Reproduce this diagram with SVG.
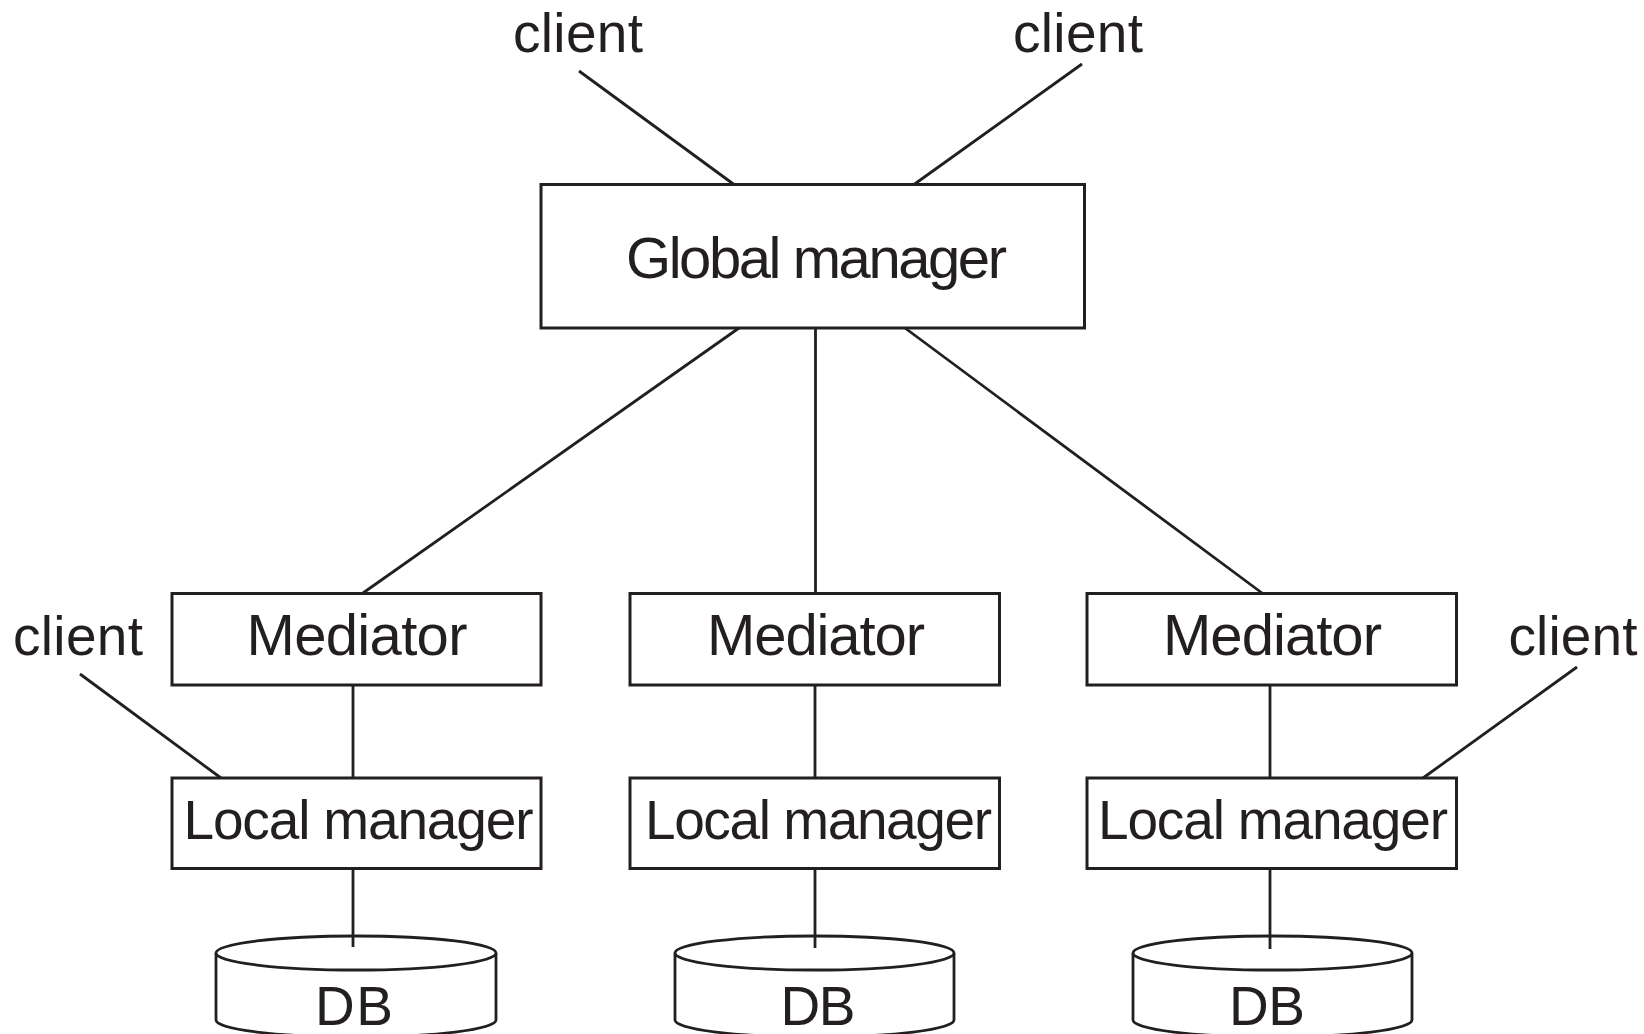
<svg xmlns="http://www.w3.org/2000/svg" width="1644" height="1034" viewBox="0 0 1644 1034">
<style>
.box{fill:#fff;stroke:#231f20;stroke-width:3}
.ln{stroke:#231f20;stroke-width:2.8;fill:none}
.db{fill:#fff;stroke:#231f20;stroke-width:2.8}
text{font-family:"Liberation Sans",Arial,sans-serif;fill:#231f20;text-anchor:middle}
.lbl{font-size:58px}
.lm{font-size:55px}
.dbt{font-size:55px}
.cl{font-size:55px}
</style>
<rect width="1644" height="1034" fill="#fff"/>
<g id="connectors">
<line class="ln" x1="579" y1="71" x2="734" y2="184.5"/>
<line class="ln" x1="1082" y1="64" x2="914" y2="184.5"/>
<line class="ln" x1="739" y1="328" x2="363" y2="593"/>
<line class="ln" x1="815.5" y1="328" x2="815.5" y2="593"/>
<line class="ln" x1="905" y1="328" x2="1262" y2="593"/>
<line class="ln" x1="353" y1="685" x2="353" y2="778"/>
<line class="ln" x1="815" y1="685" x2="815" y2="778"/>
<line class="ln" x1="1270" y1="685" x2="1270" y2="778"/>
<line class="ln" x1="80" y1="674" x2="221" y2="778"/>
<line class="ln" x1="1577" y1="667" x2="1423" y2="778"/>
</g>
<g id="client-top-left"><text class="cl" x="578" y="52" textLength="130">client</text></g>
<g id="client-top-right"><text class="cl" x="1078" y="52" textLength="130">client</text></g>
<g id="client-left"><text class="cl" x="78" y="655" textLength="130">client</text></g>
<g id="client-right"><text class="cl" x="1573" y="655" textLength="129">client</text></g>
<g id="global-manager">
<rect class="box" x="541" y="184.5" width="543.5" height="143.5"/>
<text class="lbl" x="816.5" y="278" textLength="381">Global manager</text>
</g>
<g id="mediator-left">
<rect class="box" x="172" y="593.5" width="369" height="91.5"/>
<text class="lbl" x="357" y="655" textLength="221">Mediator</text>
</g>
<g id="mediator-center">
<rect class="box" x="630" y="593.5" width="369.5" height="91.5"/>
<text class="lbl" x="816" y="655" textLength="218">Mediator</text>
</g>
<g id="mediator-right">
<rect class="box" x="1087" y="593.5" width="369.5" height="91.5"/>
<text class="lbl" x="1272.5" y="655" textLength="219">Mediator</text>
</g>
<g id="local-manager-left">
<rect class="box" x="172" y="778" width="369" height="90.5"/>
<text class="lm" x="358.5" y="839" textLength="350">Local manager</text>
</g>
<g id="local-manager-center">
<rect class="box" x="630" y="778" width="369.5" height="90.5"/>
<text class="lm" x="818.5" y="839" textLength="347">Local manager</text>
</g>
<g id="local-manager-right">
<rect class="box" x="1087" y="778" width="369.5" height="90.5"/>
<text class="lm" x="1273" y="839" textLength="350">Local manager</text>
</g>
<g id="db-left">
<path class="db" d="M216,953 L216,1020 A140,17 0 0 0 496,1020 L496,953"/>
<ellipse class="db" cx="356" cy="953" rx="140" ry="17"/>
<line class="ln" x1="353" y1="868" x2="353" y2="947"/>
<text class="dbt" x="354" y="1025" textLength="78">DB</text>
</g>
<g id="db-center">
<path class="db" d="M675,953 L675,1020 A139.5,17 0 0 0 954,1020 L954,953"/>
<ellipse class="db" cx="814.5" cy="953" rx="139.5" ry="17"/>
<line class="ln" x1="815" y1="868" x2="815" y2="948"/>
<text class="dbt" x="818" y="1025" textLength="75">DB</text>
</g>
<g id="db-right">
<path class="db" d="M1133,953 L1133,1020 A139.5,17 0 0 0 1412,1020 L1412,953"/>
<ellipse class="db" cx="1272.5" cy="953" rx="139.5" ry="17"/>
<line class="ln" x1="1270" y1="868" x2="1270" y2="949"/>
<text class="dbt" x="1267" y="1025" textLength="76">DB</text>
</g>
</svg>
